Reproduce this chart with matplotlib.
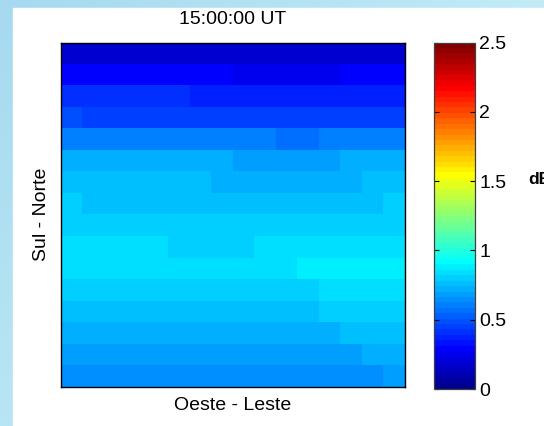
import numpy as np
import matplotlib
matplotlib.use("Agg")
import matplotlib.pyplot as plt
from matplotlib.colors import ListedColormap, LinearSegmentedColormap
from matplotlib.patches import Rectangle

plt.rcParams['font.family'] = ['Liberation Sans', 'DejaVu Sans']

# dB values, one list per grid row (north at top, west at left), 16 cells each
r01 = [0.18] * 16
r02 = [0.29] * 8 + [0.25] * 5 + [0.29] * 3
r03 = [0.41] * 6 + [0.37] * 10
r04 = [0.49] + [0.45] * 15
r05 = [0.61] * 10 + [0.57] * 2 + [0.61] * 4
r06 = [0.72] * 8 + [0.68] * 5 + [0.72] * 3
r07 = [0.76] * 7 + [0.72] * 7 + [0.76] * 2
r08 = [0.80] + [0.76] * 14 + [0.80]
r09 = [0.80] * 16
r10 = [0.84] * 5 + [0.80] * 4 + [0.84] * 7
r11 = [0.84] * 11 + [0.88] * 5
r12 = [0.80] * 12 + [0.84] * 4
r13 = [0.76] * 12 + [0.80] * 4
r14 = [0.72] * 13 + [0.76] * 3
r15 = [0.68] * 14 + [0.72] * 2
r16 = [0.64] * 15 + [0.68]

rows = [r01, r02, r03, r04, r05, r06, r07, r08,
        r09, r10, r11, r12, r13, r14, r15, r16]

vmin, vmax = 0, 2.5
cbar_ticks = [0, 0.5, 1, 1.5, 2, 2.5]
cbar_labels = ['0', '0.5', '1', '1.5', '2', '2.5']
title = '15:00:00 UT'
xlab = 'Oeste - Leste'
ylab = 'Sul - Norte'
unit = 'dB'


def matlab_jet(m=64):
    # same construction as MATLAB's jet(m)
    n = int(np.ceil(m / 4))
    u = np.concatenate([np.arange(1, n + 1) / n, np.ones(n - 1), np.arange(n, 0, -1) / n])
    g = int(np.ceil(n / 2)) - (1 if m % 4 == 1 else 0) + np.arange(1, len(u) + 1)
    r = g + n
    b = g - n
    J = np.zeros((m, 3))
    for idx, col in ((r, 0), (g, 1), (b, 2)):
        ok = (idx >= 1) & (idx <= m)
        J[idx[ok] - 1, col] = u[ok]
    return ListedColormap(J)


W, H = 544, 426
fig = plt.figure(figsize=(W / 100, H / 100), dpi=100)

# slide-like background: light blue gradient band at left and top
bg = fig.add_axes([0, 0, 1, 1])
bg_cmap = LinearSegmentedColormap.from_list('bg', ['#a6daf0', '#d4f6fa'])
xx, yy = np.meshgrid(np.linspace(0, 1, 200), np.linspace(0, 1, 200))
bg.imshow(0.6 * xx + 0.4 * yy, cmap=bg_cmap, extent=[0, W, H, 0], aspect='auto')
bg.add_patch(Rectangle((12.5, 8), W, H, color='white', zorder=2))
bg.set_xlim(0, W)
bg.set_ylim(H, 0)
bg.axis('off')


def box(x0, y0, x1, y1):
    return [x0 / W, 1 - y1 / H, (x1 - x0) / W, (y1 - y0) / H]


ax = fig.add_axes(box(61, 42.5, 405, 387))
im = ax.imshow(np.array(rows), cmap=matlab_jet(64), vmin=vmin, vmax=vmax,
               aspect='auto', interpolation='nearest')
ax.set_xticks([])
ax.set_yticks([])
for s in ax.spines.values():
    s.set_color('black')
    s.set_linewidth(1.0)

cax = fig.add_axes(box(434, 42.5, 475, 389))
cb = fig.colorbar(im, cax=cax)
cb.set_ticks(cbar_ticks)
cb.set_ticklabels(cbar_labels)
cb.outline.set_edgecolor('#404040')
cb.outline.set_linewidth(0.9)
cax.tick_params(direction='in', left=True, right=True, length=3.5, width=0.8,
                labelsize=14, pad=3)

fs = 14
fig.text(233 / W, 1 - 19 / H, title, ha='center', va='center', fontsize=fs)
fig.text(233 / W, 1 - 405 / H, xlab, ha='center', va='center', fontsize=fs)
fig.text(41 / W, 1 - 214.5 / H, ylab, ha='center', va='center', fontsize=fs,
         rotation=90)
fig.text(528 / W, 1 - 180 / H, unit, ha='left', va='center', fontsize=12.5,
         fontweight='bold')

fig.savefig('out.png', dpi=100)
